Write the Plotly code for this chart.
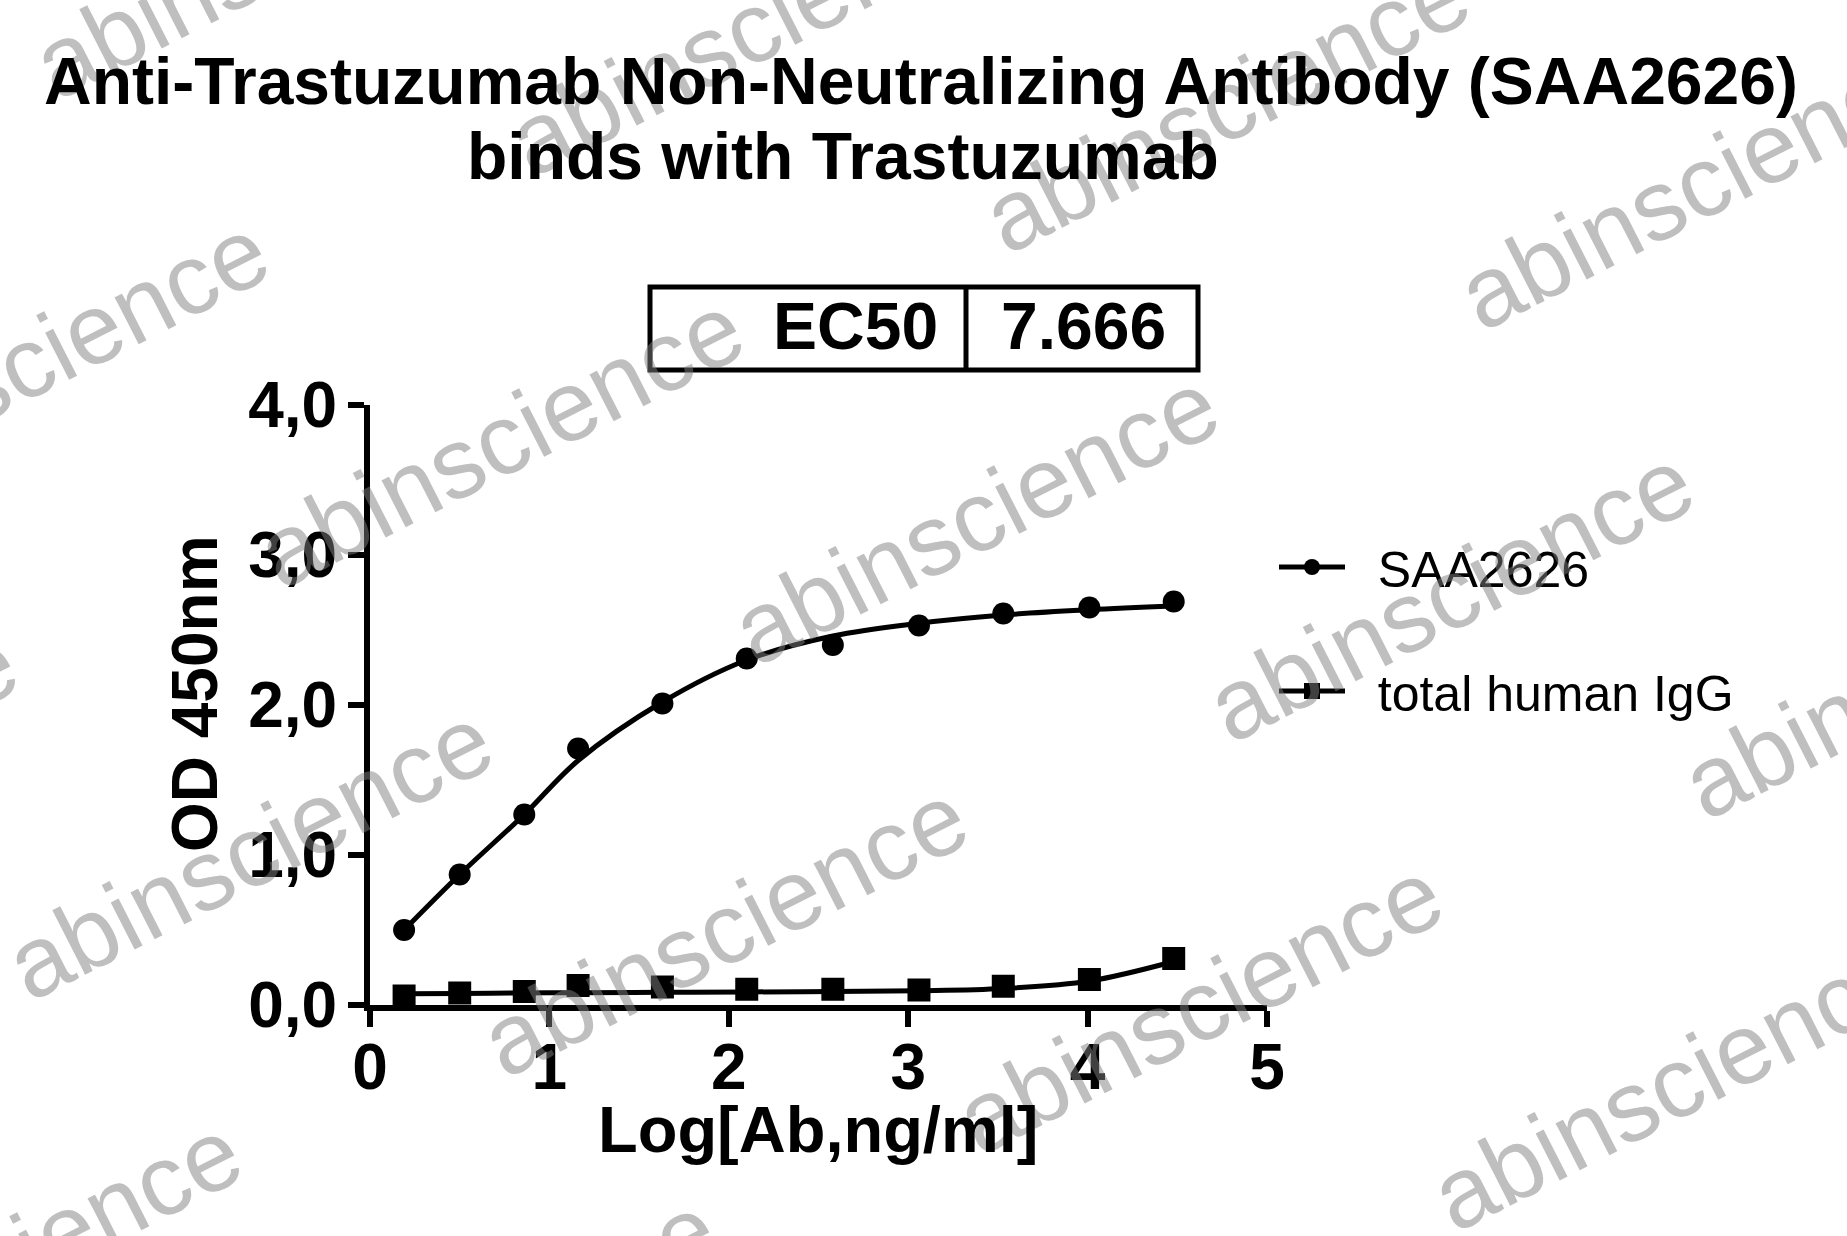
import plotly.graph_objects as go

# ---------------- data ----------------
log_conc = [0.19, 0.50, 0.86, 1.16, 1.63, 2.10, 2.58, 3.06, 3.53, 4.01, 4.48]
saa2626_od = [0.50, 0.87, 1.27, 1.71, 2.01, 2.31, 2.40, 2.53, 2.61, 2.65, 2.69]
igg_od = [0.06, 0.08, 0.09, 0.13, 0.12, 0.105, 0.105, 0.10, 0.125, 0.17, 0.31]
# fitted curves at the same x positions
saa2626_fit = [0.50, 0.87, 1.27, 1.63, 2.02, 2.30, 2.46, 2.545, 2.60, 2.635, 2.66]
igg_fit = [0.075, 0.077, 0.08, 0.082, 0.085, 0.087, 0.09, 0.095, 0.11, 0.16, 0.29]

series_names = ["SAA2626", "total human IgG"]
x_ticks = [0, 1, 2, 3, 4, 5]
x_tick_text = ["0", "1", "2", "3", "4", "5"]
y_ticks = [0, 1, 2, 3, 4]
y_tick_text = ["0,0", "1,0", "2,0", "3,0", "4,0"]

title_line1 = "Anti-Trastuzumab Non-Neutralizing Antibody (SAA2626)"
title_line2 = "binds with Trastuzumab"
x_title = "Log[Ab,ng/ml]"
y_title = "OD 450nm"
ec50_label = "EC50"
ec50_value = "7.666"
watermark = "abinscience"

# ---------------- layout geometry (pixels) ----------------
W, H = 1847, 1236
L, R, T, B = 370, 580, 405, 231
PW, PH = W - L - R, H - T - B
FONT = "Liberation Sans"
NB = "\u00a0"


def px(xp):
    return (xp - L) / PW


def py(yp):
    return (H - B - yp) / PH


fig = go.Figure()

# fitted curves
for fit in (saa2626_fit, igg_fit):
    fig.add_trace(go.Scatter(x=log_conc, y=fit, mode="lines",
                             line=dict(color="black", width=5, shape="spline", smoothing=1.0),
                             showlegend=False, hoverinfo="skip"))
# data points
fig.add_trace(go.Scatter(x=log_conc, y=saa2626_od, mode="markers",
                         marker=dict(symbol="circle", size=22, color="black"), showlegend=False))
fig.add_trace(go.Scatter(x=log_conc, y=igg_od, mode="markers",
                         marker=dict(symbol="square", size=23, color="black"), showlegend=False))
# legend entries
fig.add_trace(go.Scatter(x=[None], y=[None], mode="lines+markers", name=NB * 2 + series_names[0], legendgroup="a",
                         line=dict(color="black", width=5), marker=dict(symbol="circle", size=22, color="black")))
fig.add_trace(go.Scatter(x=[None], y=[None], mode="lines+markers", name=NB * 2 + series_names[1], legendgroup="b",
                         line=dict(color="black", width=5), marker=dict(symbol="square", size=23, color="black")))

axis_common = dict(showgrid=False, zeroline=False, showline=True, linecolor="black", linewidth=6,
                   ticks="outside", ticklen=16, tickwidth=6, tickcolor="black",
                   tickfont=dict(family=FONT, size=64, color="black", weight="bold"))
fig.update_xaxes(range=[0, 5], tickvals=x_ticks, ticktext=x_tick_text, ticklabelstandoff=-15, **axis_common)
fig.update_yaxes(range=[0, 4], tickvals=y_ticks, ticktext=y_tick_text, ticklabelstandoff=-2, **axis_common)

ann = []
# watermarks (lattice)
P0 = (500, 440)
U = (475, 77)
V = (224, 489)
for i in range(-4, 6):
    for j in range(-3, 4):
        cx = P0[0] + i * U[0] + j * V[0]
        cy = P0[1] + i * U[1] + j * V[1]
        if -270 < cx < W + 270 and -170 < cy < H + 170:
            ann.append(dict(x=px(cx), y=py(cy), xref="paper", yref="paper", text=watermark, showarrow=False,
                            textangle=-27, xanchor="center", yanchor="middle",
                            font=dict(family=FONT, size=100, color="rgba(128,128,128,0.5)")))

bold = dict(family=FONT, size=66, color="black", weight="bold")
ann.append(dict(x=px(42), y=py(81), xref="paper", yref="paper", text=title_line1, showarrow=False,
                xanchor="left", yanchor="middle", font=bold))
ann.append(dict(x=px(465), y=py(156), xref="paper", yref="paper", text=title_line2, showarrow=False,
                xanchor="left", yanchor="middle", font=bold))
ann.append(dict(x=px(940), y=py(326), xref="paper", yref="paper", text=ec50_label, showarrow=False,
                xanchor="right", yanchor="middle", font=bold))
ann.append(dict(x=px(999), y=py(326), xref="paper", yref="paper", text=ec50_value, showarrow=False,
                xanchor="left", yanchor="middle", font=bold))
ann.append(dict(x=px(818), y=py(1129), xref="paper", yref="paper", text=x_title, showarrow=False,
                xanchor="center", yanchor="middle", font=dict(family=FONT, size=65, color="black", weight="bold")))
ann.append(dict(x=px(195), y=py(694), xref="paper", yref="paper", text=y_title, showarrow=False, textangle=-90,
                xanchor="center", yanchor="middle", font=dict(family=FONT, size=64, color="black", weight="bold")))

shapes = [
    dict(type="rect", xref="paper", yref="paper", x0=px(650), x1=px(1198), y0=py(370), y1=py(287),
         line=dict(color="black", width=5), fillcolor="rgba(0,0,0,0)"),
    dict(type="line", xref="paper", yref="paper", x0=px(966), x1=px(966), y0=py(370), y1=py(287),
         line=dict(color="black", width=5)),
]

fig.update_layout(
    width=W, height=H, margin=dict(l=L, r=R, t=T, b=B, autoexpand=False),
    paper_bgcolor="white", plot_bgcolor="white",
    annotations=ann, shapes=shapes,
    legend=dict(x=px(1274), y=py(528), xanchor="left", yanchor="top", itemwidth=66,
                font=dict(family=FONT, size=50, color="black"), traceorder="grouped", tracegroupgap=56,
                bgcolor="rgba(0,0,0,0)"),
    hovermode=False,
)

fig.write_html("out.html", config={"displayModeBar": False},
               post_script="document.body.style.margin='0px';document.body.style.padding='0px';")
